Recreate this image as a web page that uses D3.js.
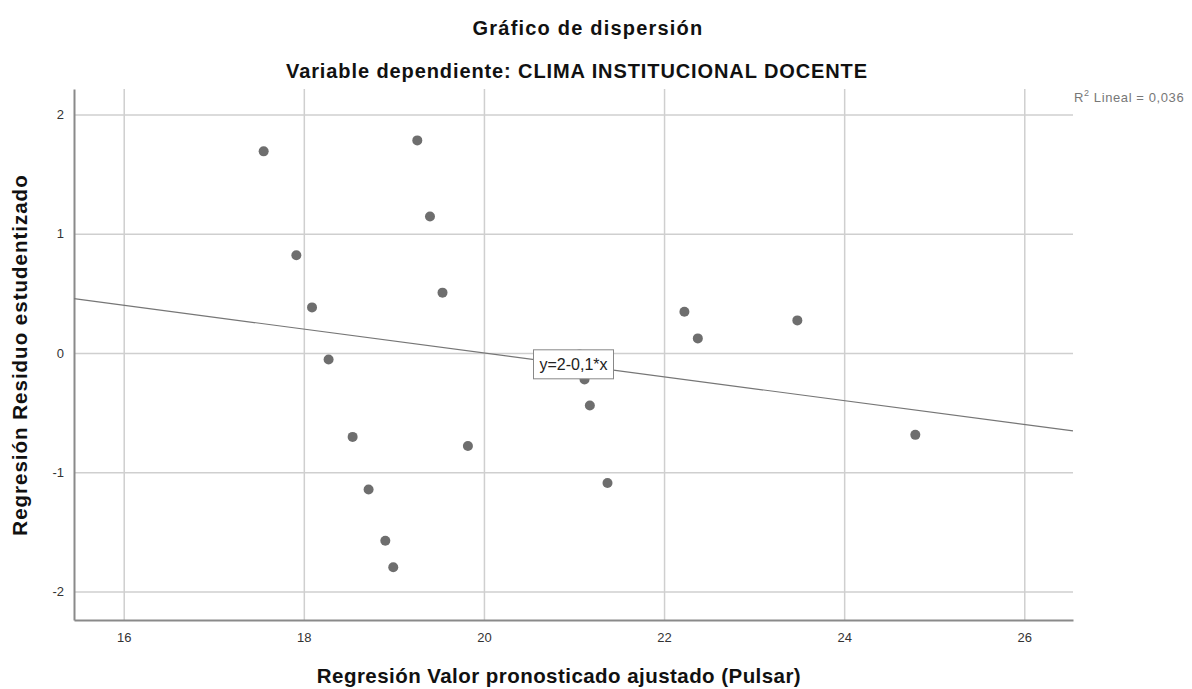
<!DOCTYPE html>
<html>
<head>
<meta charset="utf-8">
<script src="https://cdn.jsdelivr.net/npm/d3@7"></script>
<style>
  body { margin: 0; background: #fff; }
  text { font-family: Arial, "Liberation Sans", sans-serif; }
</style>
</head>
<body>
<svg width="1192" height="689"></svg>
<script>
// valores
var pronosticado = [17.554, 17.917, 18.091, 18.275, 18.542, 18.719, 18.905, 18.993,
  19.260, 19.401, 19.540, 19.822, 21.061, 21.117, 21.176, 21.372,
  22.226, 22.375, 23.480, 24.790];
var residuo = [1.691, 0.819, 0.382, -0.055, -0.704, -1.145, -1.576, -1.797,
  1.783, 1.145, 0.506, -0.780, -0.013, -0.223, -0.441, -1.091,
  0.346, 0.122, 0.273, -0.687];
var xTicks = [16, 18, 20, 22, 24, 26];
var yTicks = [-2, -1, 0, 1, 2];
var intercepto = 2.0;
var pendiente = -0.1;
var r2 = "0,036";

var svg = d3.select("svg");
var izq = 74, der = 1073, arriba = 89, abajo = 620;

var x = d3.scaleLinear().domain([15.448, 26.541]).range([izq, der]);
var y = d3.scaleLinear().domain([-2.24, 2.214]).range([abajo, arriba]);

// rejilla
svg.append("g")
  .attr("transform", "translate(0," + abajo + ")")
  .call(d3.axisBottom(x).tickValues(xTicks).tickSize(-(abajo - arriba)).tickFormat(""))
  .call(g => g.select(".domain").remove())
  .selectAll("line").attr("stroke", "#cfcfcf").attr("stroke-width", 1.5);

svg.append("g")
  .attr("transform", "translate(" + izq + ",0)")
  .call(d3.axisLeft(y).tickValues(yTicks).tickSize(-(der - izq)).tickFormat(""))
  .call(g => g.select(".domain").remove())
  .selectAll("line").attr("stroke", "#cfcfcf").attr("stroke-width", 1.5);

// ejes
var ax = svg.append("g")
  .attr("transform", "translate(0," + abajo + ")")
  .call(d3.axisBottom(x).tickValues(xTicks).tickSize(0).tickPadding(13).tickFormat(function(d) { return String(d); }));
ax.select(".domain").attr("stroke", "#8a8a8a").attr("stroke-width", 2);
ax.selectAll("text").attr("font-size", 13).attr("fill", "#333")
  .style("font-family", "Arial, 'Liberation Sans', sans-serif");

var ay = svg.append("g")
  .attr("transform", "translate(" + izq + ",0)")
  .call(d3.axisLeft(y).tickValues(yTicks).tickSize(0).tickPadding(10).tickFormat(function(d) { return String(d); }));
ay.select(".domain").attr("stroke", "#8a8a8a").attr("stroke-width", 2);
ay.selectAll("text").attr("font-size", 13).attr("fill", "#333")
  .style("font-family", "Arial, 'Liberation Sans', sans-serif");

// recta de regresion
var x0 = x.domain()[0], x1 = x.domain()[1];
svg.append("line")
  .attr("x1", x(x0)).attr("y1", y(intercepto + pendiente * x0))
  .attr("x2", x(x1)).attr("y2", y(intercepto + pendiente * x1))
  .attr("stroke", "#767676").attr("stroke-width", 1.2);

// puntos
svg.selectAll("circle.pt")
  .data(pronosticado)
  .enter()
  .append("circle")
  .attr("class", "pt")
  .attr("cx", function(d) { return x(d); })
  .attr("cy", function(d, i) { return y(residuo[i]); })
  .attr("r", 5)
  .attr("fill", "#6e6e6e");

// etiqueta de la ecuacion en el centro de la recta
var xm = (x0 + x1) / 2;
var lab = svg.append("g")
  .attr("transform", "translate(" + x(xm) + "," + y(intercepto + pendiente * xm) + ")");
lab.append("rect")
  .attr("x", -40).attr("y", -15).attr("width", 80).attr("height", 29)
  .attr("fill", "#fff").attr("stroke", "#888").attr("stroke-width", 1);
lab.append("text")
  .attr("text-anchor", "middle").attr("y", 5)
  .attr("font-size", 16).attr("fill", "#222")
  .text("y=2-0,1*x");

// R2
var r2t = svg.append("text")
  .attr("x", 1074).attr("y", 102)
  .attr("font-size", 13).attr("letter-spacing", 0.6).attr("fill", "#777");
r2t.append("tspan").text("R");
r2t.append("tspan").attr("dy", -6).attr("font-size", 9).text("2");
r2t.append("tspan").attr("dy", 6).text(" Lineal = " + r2);

// titulos
svg.append("text")
  .attr("x", 588).attr("y", 35)
  .attr("text-anchor", "middle")
  .attr("font-size", 20).attr("letter-spacing", 1.2).attr("font-weight", "bold").attr("fill", "#111")
  .text("Gráfico de dispersión");

svg.append("text")
  .attr("x", 577).attr("y", 78)
  .attr("text-anchor", "middle")
  .attr("font-size", 20).attr("letter-spacing", 0.9).attr("font-weight", "bold").attr("fill", "#111")
  .text("Variable dependiente: CLIMA INSTITUCIONAL DOCENTE");

svg.append("text")
  .attr("x", 559).attr("y", 683)
  .attr("text-anchor", "middle")
  .attr("font-size", 20.5).attr("letter-spacing", 0.45).attr("font-weight", "bold").attr("fill", "#111")
  .text("Regresión Valor pronosticado ajustado (Pulsar)");

svg.append("text")
  .attr("transform", "translate(27,355) rotate(-90)")
  .attr("text-anchor", "middle")
  .attr("font-size", 20.5).attr("letter-spacing", 1.0).attr("font-weight", "bold").attr("fill", "#111")
  .text("Regresión Residuo estudentizado");
</script>
</body>
</html>
